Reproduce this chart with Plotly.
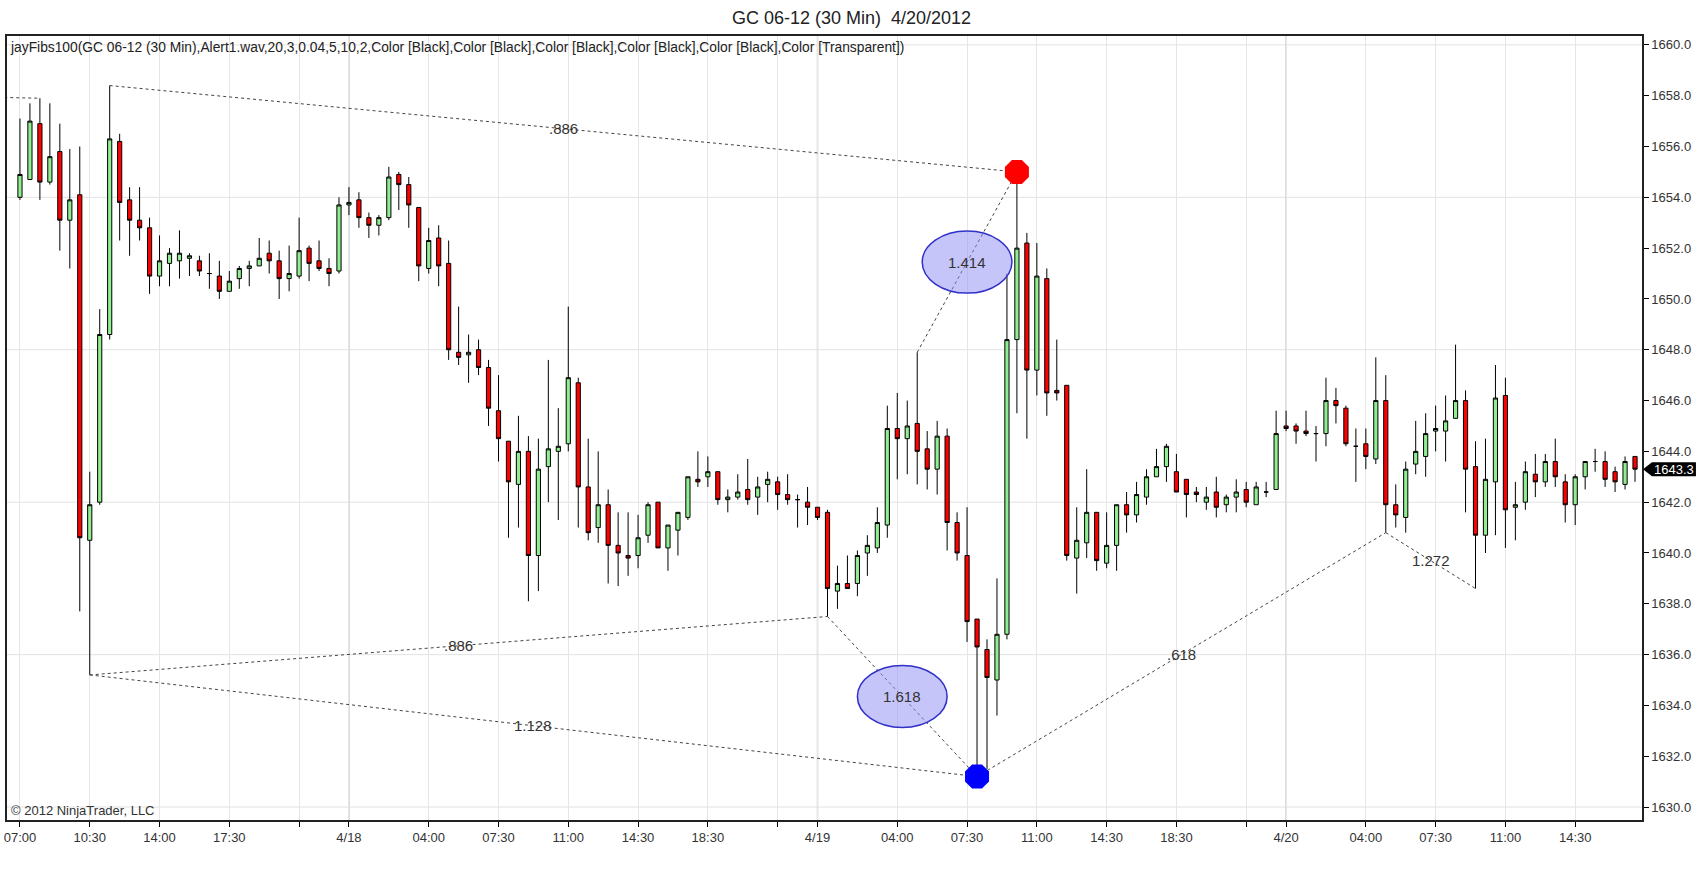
import plotly.graph_objects as go

# 30 min bars of GC 06-12, 4/17 07:00 .. 4/20 (bar index 0..162)
OPEN = [1654.0, 1654.7, 1656.9, 1654.6, 1655.8, 1653.1, 1654.1, 1640.5, 1642.0, 1648.6,
        1656.2, 1653.9, 1653.1, 1652.8, 1650.9, 1651.4, 1651.5, 1651.6, 1651.5, 1651.0,
        1650.9, 1650.3, 1650.8, 1651.2, 1651.3, 1651.8, 1651.5, 1650.8, 1650.9, 1652.0,
        1651.5, 1651.2, 1651.1, 1653.7, 1653.9, 1653.2, 1652.9, 1653.2, 1654.9, 1654.5,
        1653.6, 1651.2, 1652.4, 1651.4, 1647.9, 1647.8, 1648.0, 1647.3, 1645.6, 1644.4,
        1642.7, 1644.0, 1639.9, 1643.4, 1644.0, 1644.3, 1646.7, 1642.6, 1641.0, 1641.9,
        1640.3, 1639.9, 1639.9, 1640.7, 1642.0, 1640.2, 1640.9, 1641.4, 1642.9, 1643.0,
        1643.2, 1642.1, 1642.2, 1642.5, 1642.2, 1642.7, 1642.8, 1642.3, 1642.1, 1642.0,
        1641.8, 1641.6, 1638.5, 1638.8, 1638.8, 1640.0, 1640.2, 1641.1, 1644.9, 1644.5,
        1645.1, 1644.1, 1643.3, 1644.6, 1641.2, 1639.9, 1637.4, 1636.2, 1635.0, 1636.8,
        1648.4, 1652.2, 1647.2, 1650.8, 1646.4, 1646.6, 1639.8, 1640.4, 1641.6, 1639.6,
        1640.3, 1641.9, 1641.5, 1642.2, 1643.0, 1643.4, 1643.2, 1642.9, 1642.4, 1642.0,
        1642.4, 1641.9, 1642.2, 1642.5, 1641.9, 1642.4, 1642.5, 1645.0, 1645.0, 1644.8,
        1644.7, 1644.7, 1646.0, 1645.7, 1644.2, 1644.3, 1643.7, 1646.0, 1641.9, 1641.4,
        1643.5, 1643.8, 1644.8, 1644.8, 1645.3, 1646.0, 1643.4, 1640.7, 1642.8, 1646.2,
        1641.8, 1642.0, 1643.1, 1642.8, 1643.6, 1642.8, 1641.9, 1643.0, 1643.6, 1643.6,
        1643.2, 1642.7, 1643.8]
HIGH = [1657.1, 1657.7, 1657.9, 1657.7, 1656.9, 1655.9, 1656.0, 1643.2, 1649.6, 1658.4,
        1656.5, 1654.4, 1654.4, 1653.2, 1652.5, 1652.0, 1652.7, 1651.8, 1651.7, 1651.8,
        1651.5, 1651.1, 1651.3, 1651.5, 1652.4, 1652.3, 1651.9, 1652.1, 1653.2, 1652.1,
        1652.3, 1651.6, 1654.0, 1654.4, 1654.2, 1653.4, 1653.3, 1655.2, 1655.0, 1654.8,
        1653.6, 1652.8, 1652.9, 1652.3, 1649.7, 1648.6, 1648.4, 1647.6, 1647.0, 1644.4,
        1645.4, 1644.6, 1644.5, 1647.6, 1645.7, 1649.7, 1646.9, 1644.5, 1644.0, 1642.5,
        1641.6, 1641.6, 1641.5, 1642.0, 1642.0, 1641.1, 1641.6, 1643.0, 1644.0, 1643.8,
        1643.2, 1642.5, 1643.1, 1643.7, 1643.0, 1643.2, 1643.0, 1643.1, 1642.3, 1642.6,
        1641.8, 1641.7, 1639.5, 1639.9, 1640.1, 1640.7, 1641.8, 1645.8, 1646.3, 1646.0,
        1647.9, 1644.8, 1645.2, 1644.9, 1641.6, 1641.8, 1637.4, 1636.6, 1639.0, 1651.0,
        1655.0, 1652.6, 1652.2, 1651.2, 1648.4, 1646.6, 1641.8, 1643.3, 1641.6, 1641.6,
        1641.9, 1642.4, 1642.8, 1643.3, 1644.1, 1644.3, 1643.9, 1642.9, 1642.6, 1642.6,
        1643.0, 1642.3, 1642.9, 1642.8, 1642.8, 1642.8, 1645.6, 1645.6, 1645.1, 1645.6,
        1645.0, 1646.9, 1646.5, 1645.8, 1644.9, 1644.9, 1647.7, 1647.0, 1642.7, 1643.6,
        1645.2, 1645.5, 1645.8, 1646.2, 1648.2, 1646.4, 1644.4, 1644.5, 1647.4, 1646.9,
        1642.8, 1643.6, 1643.9, 1643.9, 1644.5, 1643.1, 1643.1, 1643.6, 1644.1, 1644.0,
        1643.4, 1643.8, 1643.8]
LOW = [1653.9, 1654.7, 1653.9, 1654.5, 1651.9, 1651.2, 1637.7, 1635.2, 1641.9, 1648.4,
       1652.3, 1651.7, 1652.3, 1650.2, 1650.5, 1650.5, 1650.8, 1650.9, 1650.9, 1650.4,
       1650.0, 1650.3, 1650.4, 1650.5, 1651.3, 1651.0, 1650.0, 1650.3, 1650.8, 1650.7,
       1651.1, 1650.5, 1651.0, 1653.3, 1652.8, 1652.4, 1652.5, 1653.1, 1653.5, 1652.8,
       1650.7, 1651.0, 1650.5, 1647.6, 1647.4, 1646.7, 1647.0, 1645.0, 1643.6, 1640.6,
       1641.0, 1638.1, 1638.5, 1642.0, 1641.3, 1644.0, 1641.0, 1640.5, 1640.4, 1638.8,
       1638.7, 1639.1, 1639.4, 1640.4, 1640.2, 1639.3, 1639.9, 1641.3, 1642.6, 1642.6,
       1641.9, 1641.6, 1642.1, 1641.9, 1641.5, 1642.0, 1641.7, 1641.9, 1641.0, 1641.1,
       1641.3, 1637.5, 1637.8, 1638.6, 1638.3, 1639.1, 1640.0, 1640.6, 1642.9, 1643.1,
       1642.7, 1642.5, 1642.3, 1640.1, 1639.7, 1636.5, 1631.2, 1631.5, 1633.6, 1636.6,
       1645.5, 1644.5, 1646.2, 1645.4, 1646.0, 1639.7, 1638.4, 1639.8, 1639.3, 1639.4,
       1639.3, 1640.8, 1641.2, 1641.9, 1643.0, 1642.8, 1642.4, 1641.4, 1642.0, 1641.7,
       1641.4, 1641.6, 1641.6, 1641.8, 1641.9, 1642.2, 1642.5, 1644.8, 1644.3, 1644.6,
       1643.6, 1644.2, 1645.1, 1644.2, 1642.8, 1643.3, 1643.5, 1640.8, 1641.0, 1640.8,
       1643.1, 1643.0, 1644.0, 1643.6, 1645.3, 1641.6, 1638.6, 1640.0, 1640.7, 1640.2,
       1640.5, 1641.7, 1642.2, 1642.6, 1642.6, 1641.2, 1641.1, 1642.5, 1643.2, 1642.6,
       1642.4, 1642.5, 1642.8]
CLOSE = [1654.9, 1657.0, 1654.6, 1655.6, 1653.1, 1653.9, 1640.6, 1641.9, 1648.6, 1656.3,
         1653.8, 1653.1, 1652.8, 1650.9, 1651.5, 1651.8, 1651.8, 1651.7, 1651.1, 1651.0,
         1650.3, 1650.7, 1651.2, 1651.3, 1651.6, 1651.5, 1650.8, 1651.0, 1651.9, 1651.4,
         1651.2, 1651.0, 1653.7, 1653.8, 1653.2, 1652.9, 1653.2, 1654.8, 1654.5, 1653.7,
         1651.3, 1652.3, 1651.3, 1648.0, 1647.7, 1647.9, 1647.3, 1645.7, 1644.5, 1642.8,
         1644.0, 1639.9, 1643.3, 1644.1, 1644.2, 1646.9, 1642.6, 1640.8, 1641.9, 1640.3,
         1640.0, 1639.8, 1640.6, 1641.9, 1640.2, 1641.1, 1641.6, 1643.0, 1642.8, 1643.2,
         1642.1, 1642.2, 1642.4, 1642.1, 1642.6, 1642.9, 1642.3, 1642.1, 1642.1, 1641.8,
         1641.4, 1638.6, 1638.8, 1638.6, 1639.9, 1640.3, 1641.2, 1644.9, 1644.5, 1645.0,
         1644.0, 1643.3, 1644.6, 1641.2, 1640.0, 1637.3, 1636.3, 1635.1, 1636.8, 1648.4,
         1652.0, 1647.2, 1650.9, 1646.3, 1646.3, 1639.9, 1640.5, 1641.6, 1639.7, 1640.3,
         1641.9, 1641.5, 1642.3, 1643.0, 1643.4, 1644.2, 1642.4, 1642.3, 1642.3, 1642.2,
         1641.8, 1642.2, 1642.4, 1642.0, 1642.6, 1642.4, 1644.7, 1644.9, 1644.8, 1644.7,
         1644.7, 1646.0, 1645.8, 1644.3, 1644.2, 1643.8, 1646.0, 1641.9, 1641.5, 1643.3,
         1644.0, 1644.7, 1644.9, 1645.2, 1646.0, 1643.3, 1640.7, 1642.9, 1646.1, 1641.7,
         1641.9, 1643.2, 1642.8, 1643.6, 1643.0, 1641.9, 1643.0, 1643.6, 1643.6, 1642.9,
         1642.8, 1643.6, 1643.3]
BARS = list(range(len(CLOSE)))

# time axis labels (bar index -> label), "" = unlabeled tick
TICK_BARS = [0, 7, 14, 21, 28, 33, 41, 48, 55, 62, 69, 76, 80, 88, 95, 102, 109, 116, 123, 127,
             135, 142, 149, 156]
TICK_TEXT = ["07:00", "10:30", "14:00", "17:30", "", "4/18", "04:00", "07:30", "11:00", "14:30",
             "18:30", "", "4/19", "04:00", "07:30", "11:00", "14:30", "18:30", "", "4/20",
             "04:00", "07:30", "11:00", "14:30"]
SESSION_BREAKS = [33, 80, 127]
GRID_LEVELS = [1630, 1636, 1642, 1648, 1654, 1660]

# jayFibs swing legs: start bar / end bar, side of the candle used, ratio label
FIB_FROM = [9, 7, 7, 81, 90, 96, 137]
FIB_FROM_SIDE = ["high", "low", "low", "low", "high", "low", "low"]
FIB_TO = [100, 81, 96, 96, 100, 137, 146]
FIB_TO_SIDE = ["high", "low", "low", "low", "high", "low", "low"]
FIB_LABEL = [".886", ".886", "1.128", "1.618", "1.414", ".618", "1.272"]
FIB_BUBBLE = [False, False, False, True, True, False, False]
PREV_SWING = (-10, 1658.0)  # leg coming in from off-screen to bar 2 high

X_RANGE = [-1.3, 162.7]
Y_RANGE = [1629.49, 1660.35]
FONT = "Liberation Sans, Arial, sans-serif"


def price(bar, side):
    return HIGH[bar] if side == "high" else LOW[bar]


fig = go.Figure()

fig.add_trace(go.Candlestick(
    x=BARS, open=OPEN, high=HIGH, low=LOW, close=CLOSE,
    increasing=dict(fillcolor="#90EE90", line=dict(color="black", width=1)),
    decreasing=dict(fillcolor="#FF0000", line=dict(color="black", width=1)),
    whiskerwidth=0, showlegend=False, hoverinfo="skip",
))

# zigzag / fib legs
fig.add_trace(go.Scatter(
    x=[PREV_SWING[0], 2], y=[PREV_SWING[1], HIGH[2]], mode="lines",
    line=dict(color="#444444", width=1, dash="dot"), showlegend=False, hoverinfo="skip"))

for a, sa, b, sb in zip(FIB_FROM, FIB_FROM_SIDE, FIB_TO, FIB_TO_SIDE):
    fig.add_trace(go.Scatter(
        x=[a, b], y=[price(a, sa), price(b, sb)], mode="lines",
        line=dict(color="#444444", width=1, dash="dot"),
        showlegend=False, hoverinfo="skip"))

# swing dots
fig.add_trace(go.Scatter(x=[100], y=[HIGH[100]], mode="markers",
                         marker=dict(color="#FF0000", size=26, symbol="octagon"),
                         showlegend=False, hoverinfo="skip"))
fig.add_trace(go.Scatter(x=[96], y=[LOW[96]], mode="markers",
                         marker=dict(color="#0000FF", size=26, symbol="octagon"),
                         showlegend=False, hoverinfo="skip"))

shapes = []
for lvl in GRID_LEVELS:
    shapes.append(dict(type="line", xref="paper", x0=0, x1=1, yref="y", y0=lvl, y1=lvl,
                       line=dict(color="#e2e2e2", width=1), layer="below"))
for b in SESSION_BREAKS:
    shapes.append(dict(type="line", xref="x", x0=b, x1=b, yref="paper", y0=0, y1=1,
                       line=dict(color="#cdcdcd", width=1.5), layer="below"))

annotations = []
for a, sa, b, sb, lab, bub in zip(FIB_FROM, FIB_FROM_SIDE, FIB_TO, FIB_TO_SIDE, FIB_LABEL, FIB_BUBBLE):
    mx = (a + b) / 2
    my = (price(a, sa) + price(b, sb)) / 2
    if bub:
        shapes.append(dict(type="circle", xref="x", yref="y", x0=mx - 4.5, x1=mx + 4.5,
                           y0=my - 1.22, y1=my + 1.22, fillcolor="rgba(140,140,245,0.5)",
                           line=dict(color="#3030c8", width=1.5), layer="above"))
    annotations.append(dict(x=mx, y=my, xref="x", yref="y", text=lab, showarrow=False,
                            font=dict(family=FONT, size=15, color="#333333")))

# last price tag
last = CLOSE[-1]
ypap = (last - Y_RANGE[0]) / (Y_RANGE[1] - Y_RANGE[0])
dy = 7 / 784
shapes.append(dict(type="path", xref="paper", yref="paper",
                   path=f"M 1.0006 {ypap} L 1.0061 {ypap + dy} L 1.0330 {ypap + dy} "
                        f"L 1.0330 {ypap - dy} L 1.0061 {ypap - dy} Z",
                   fillcolor="black", line=dict(width=0)))
annotations.append(dict(x=1.0197, y=ypap, xref="paper", yref="paper", xanchor="center",
                        text="1643.3", showarrow=False,
                        font=dict(family=FONT, size=13, color="white")))

annotations.append(dict(x=0, y=1, xref="paper", yref="paper", xanchor="left", yanchor="top",
                        xshift=1, yshift=-2, showarrow=False,
                        text="jayFibs100(GC 06-12 (30 Min),Alert1.wav,20,3,0.04,5,10,2,Color [Black],"
                             "Color [Black],Color [Black],Color [Black],Color [Black],Color [Transparent])",
                        font=dict(family=FONT, size=13.8, color="#222222")))
annotations.append(dict(x=0, y=0, xref="paper", yref="paper", xanchor="left", yanchor="bottom",
                        xshift=2, yshift=0, showarrow=False, text="© 2012 NinjaTrader, LLC",
                        font=dict(family=FONT, size=13, color="#333333")))

fig.update_layout(
    width=1703, height=873,
    margin=dict(l=7, r=61, t=36, b=53),
    paper_bgcolor="white", plot_bgcolor="white",
    title=dict(text="GC 06-12 (30 Min)  4/20/2012", x=0.5, xanchor="center", y=0.98,
               yanchor="middle", font=dict(family=FONT, size=18, color="#222222")),
    font=dict(family=FONT, size=13, color="#333333"),
    shapes=shapes, annotations=annotations,
    boxgap=0.4,
    xaxis=dict(range=X_RANGE, tickvals=TICK_BARS, ticktext=TICK_TEXT, ticks="outside",
               ticklen=5, tickcolor="black", showgrid=True, gridcolor="#e6e6e6",
               showline=True, linecolor="#222222", linewidth=1.5, mirror=True,
               zeroline=False, automargin=False, rangeslider=dict(visible=False),
               tickfont=dict(family=FONT, size=13, color="#333333")),
    yaxis=dict(range=Y_RANGE, side="right", dtick=2, tick0=1630, tickformat=".1f",
               ticks="outside", ticklen=5, tickcolor="black", showgrid=False,
               showline=True, linecolor="#222222", linewidth=1.5, mirror=True,
               zeroline=False, automargin=False,
               tickfont=dict(family=FONT, size=13, color="#333333")),
)

# page body margin would offset the figure inside the window
fig.write_html("out.html", config={"displayModeBar": False},
               post_script="document.body.style.margin='0px';document.body.style.overflow='hidden';")
